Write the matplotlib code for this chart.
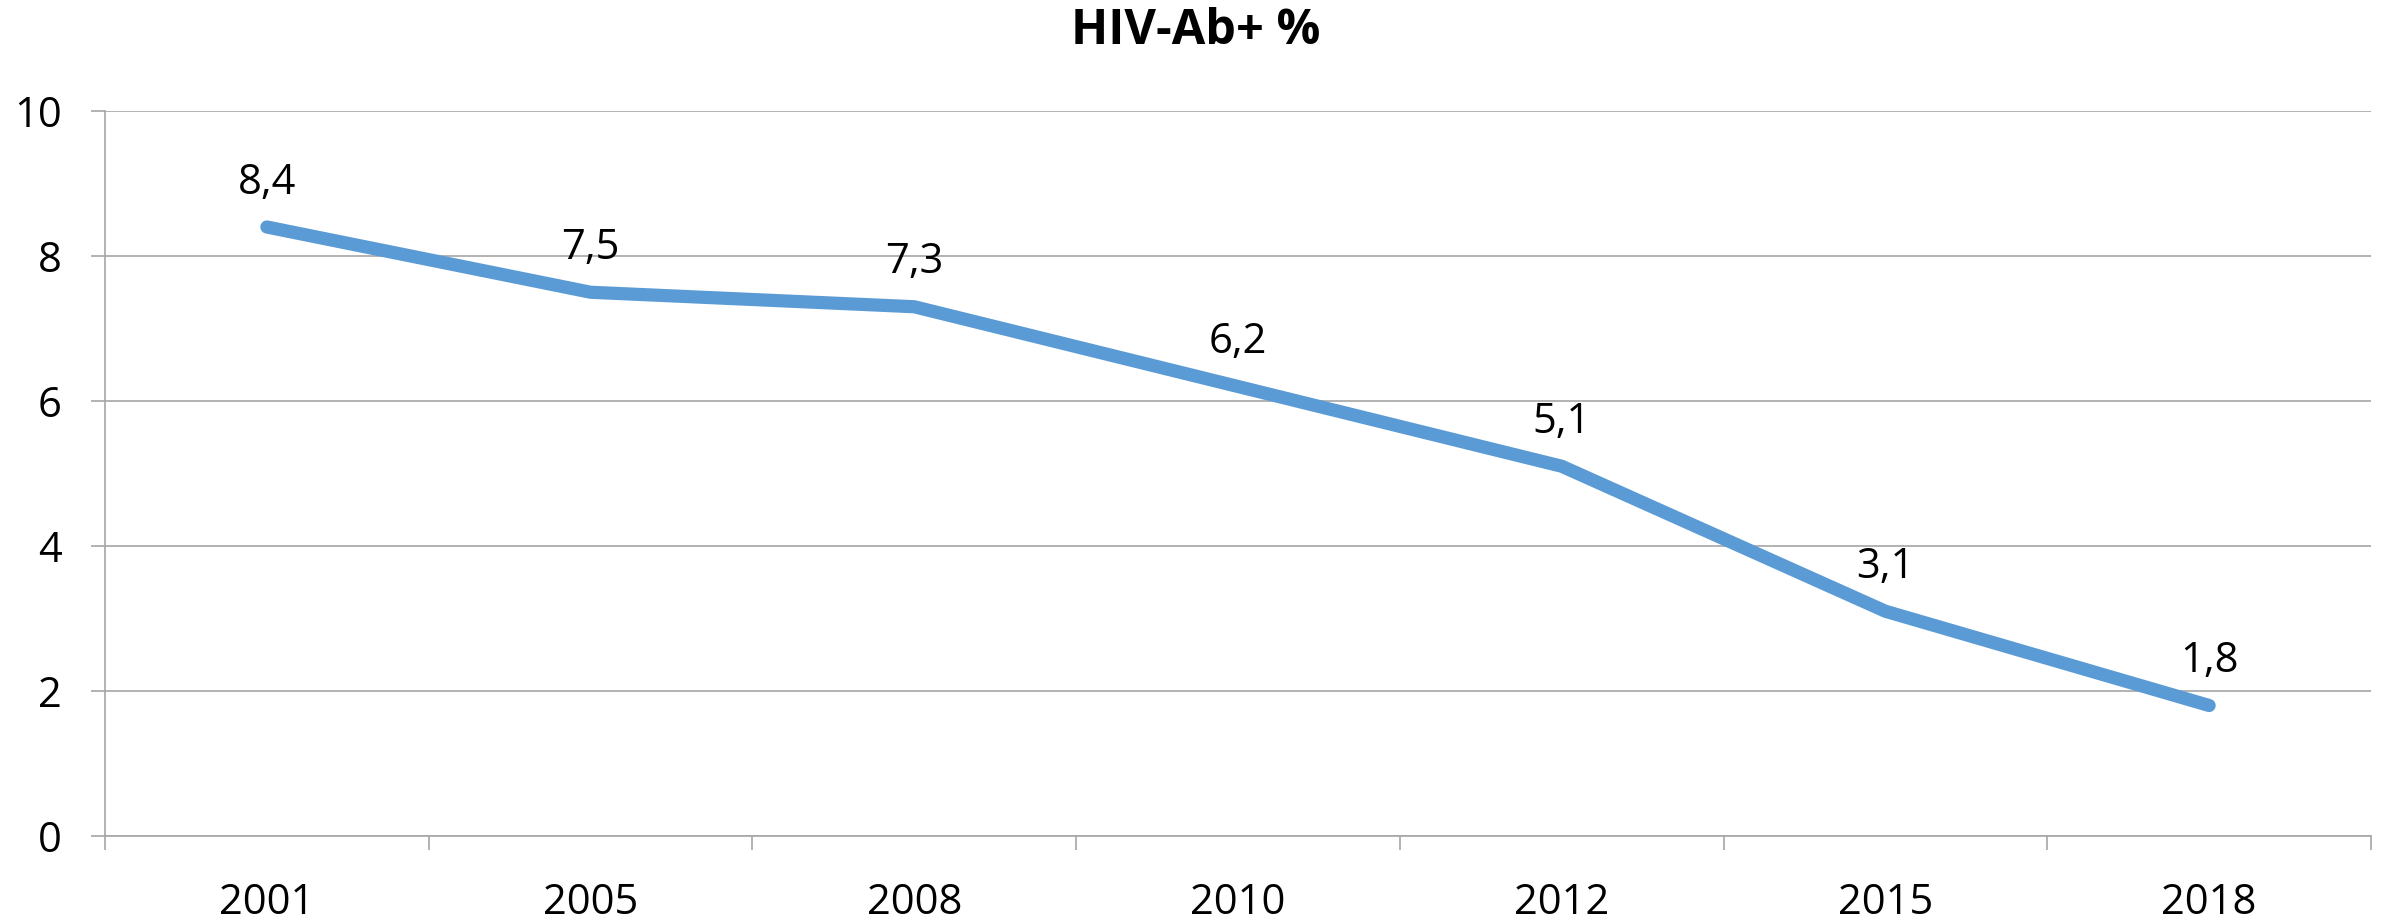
import matplotlib
matplotlib.use("Agg")
import matplotlib.pyplot as plt
import numpy as np

years = ["2001", "2005", "2008", "2010", "2012", "2015", "2018"]
values = [8.4, 7.5, 7.3, 6.2, 5.1, 3.1, 1.8]
title = "HIV-Ab+ %"

plt.rcParams['font.family'] = ['Open Sans', 'DejaVu Sans']

fig = plt.figure(figsize=(23.91, 9.21), dpi=100)
ax = fig.add_axes([105/2391, 1-836/921, (2371-105)/2391, (836-111)/921])

x = np.arange(len(years))
ax.plot(x, values, color='#5B9BD5', linewidth=9.5, solid_capstyle='round', solid_joinstyle='round', zorder=3)
for xi, v in zip(x, values):
    ax.annotate(f"{v:.1f}".replace('.', ','), (xi, v), xytext=(0, 32), textcoords='offset points',
                ha='center', va='center', fontsize=30, color='black')

ax.set_xlim(-0.5, len(years)-0.5)
ax.set_ylim(0, 10)
ax.set_yticks([0, 2, 4, 6, 8, 10])
ax.set_yticklabels(['0', '2', '4', '6', '8', '10'])
ax.set_xticks(x)
ax.set_xticklabels(years)
ax.set_xticks(np.arange(-0.5, len(years)), minor=True)
ax.tick_params(axis='x', which='major', length=0, pad=33, labelsize=30)
ax.tick_params(axis='x', which='minor', length=10, width=1.2, color='#A6A6A6')
ax.tick_params(axis='y', which='major', length=10, width=1.2, color='#A6A6A6', pad=21, labelsize=30)
ax.grid(axis='y', color='#A6A6A6', linewidth=1.2)
ax.set_axisbelow(True)
for s in ['top', 'right']:
    ax.spines[s].set_visible(False)
for s in ['left', 'bottom']:
    ax.spines[s].set_color('#A6A6A6')
    ax.spines[s].set_linewidth(1.2)

fig.text(0.5, 1-32/921, title, ha='center', va='center', fontsize=35, fontweight='bold')

fig.savefig('out.png', dpi=100, facecolor='white')
